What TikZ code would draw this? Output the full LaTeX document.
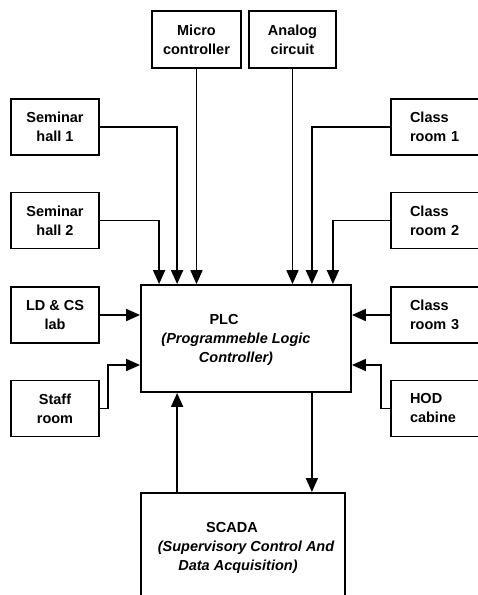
\documentclass[tikz,border=0pt]{standalone}
\usepackage{fontspec}
\setmainfont{Liberation Sans}
\usetikzlibrary{arrows.meta}
\begin{document}
\begin{tikzpicture}[x=1pt,y=-1pt,
  box/.style={draw, line width=1.8pt, inner sep=0pt, font=\bfseries\fontsize{14.5}{19}\selectfont},
  lbox/.style={box, minimum width=88pt, minimum height=56pt, align=center},
  rbox/.style={box, minimum height=56pt, text width=50pt, inner xsep=19pt, align=left},
  tbox/.style={box, minimum height=57pt, align=center},
  conn/.style={line width=1.7pt, -{Triangle[length=14pt,width=12pt]}},
  txt/.style={font=\bfseries\fontsize{14.5}{19}\selectfont, align=center, inner sep=0pt}
]
\clip (0,0) rectangle (478,595);
\fill[white] (0,0) rectangle (478,595);
% left boxes
\node[lbox] (s1) at (55,127) {Seminar\\hall 1};
\node[lbox] (s2) at (55,220.5) {Seminar\\hall 2};
\node[lbox] (ld) at (55,315) {LD \& CS\\lab};
\node[lbox] (st) at (55,408.5) {Staff\\room};
% top boxes
\node[tbox, minimum width=89pt] (mc) at (196.5,39.5) {Micro\\controller};
\node[tbox, minimum width=87pt] (an) at (292.5,39.5) {Analog\\circuit};
% right boxes
\node[rbox] (c1) at (435,127) {Class\\room 1};
\node[rbox] (c2) at (435,220.5) {Class\\room 2};
\node[rbox] (c3) at (435,315) {Class\\room 3};
\node[rbox] (hod) at (435,408.5) {HOD\\cabine};
% central boxes
\node[box, minimum width=210pt, minimum height=107pt] (plc) at (246,338.5) {};
\node[txt] (plct) at (236,340) {PLC\hspace*{24pt}\mbox{}\\\itshape(Programmeble Logic\\\itshape Controller)};
\node[box, minimum width=204pt, minimum height=140pt, anchor=north] (sc) at (243,492) {};
\node[txt] (sct) at (246,548) {SCADA\hspace*{28pt}\mbox{}\\\itshape(Supervisory Control And\\\itshape Data Acquisition)\hspace*{16pt}\mbox{}};
% connectors
\draw[conn] (s1.east) -| ([xshift=37pt]plc.north west);
\draw[conn] (s2.east) -| ([xshift=19pt]plc.north west);
\draw[conn] (mc.south) -- (mc.south |- plc.north);
\draw[conn] (an.south) -- (an.south |- plc.north);
\draw[conn] (c1.west) -| ([xshift=-40pt]plc.north east);
\draw[conn] (c2.west) -| ([xshift=-19pt]plc.north east);
\draw[conn] (ld.east) -- (ld.east -| plc.west);
\draw[conn] (c3.west) -- (c3.west -| plc.east);
\draw[conn] (st.east) -- ++(8,0) |- ([yshift=-26.5pt]plc.west);
\draw[conn] (hod.west) -- ++(-9,0) |- ([yshift=-26.5pt]plc.east);
\draw[conn] ([xshift=-40pt]plc.south east) -- ([xshift=-40pt]plc.south east |- sc.north);
\draw[conn] ([xshift=37pt]sc.north west) -- ([xshift=37pt]sc.north west |- plc.south);
\end{tikzpicture}
\end{document}
